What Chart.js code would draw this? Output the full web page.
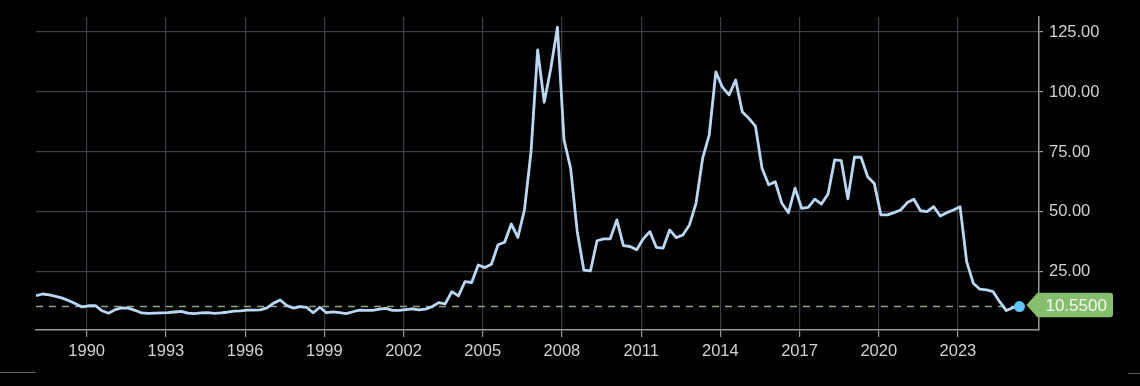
<!DOCTYPE html>
<html>
<head>
<meta charset="utf-8">
<script src="https://cdn.jsdelivr.net/npm/chart.js@4/dist/chart.umd.min.js"></script>
<style>
  html, body { margin: 0; padding: 0; background: #000; }
  #wrap { width: 1140px; height: 386px; }
</style>
</head>
<body>
<div id="wrap"><canvas id="priceChart" width="1140" height="386"></canvas></div>
<script>
// quarterly readings, first one early 1988
const startYear = 1988.08;
const stepYears = 0.25;
const values = [
  15.1, 15.8, 15.4, 14.8, 14.1, 13.0, 11.7, 10.4, 10.9, 11.0,
  8.8, 7.8, 9.3, 10.0, 9.9, 9.0, 7.9, 7.7, 7.8, 7.9,
  8.0, 8.3, 8.6, 7.8, 7.6, 7.9, 8.0, 7.7, 7.9, 8.2,
  8.7, 8.8, 9.1, 9.1, 9.2, 10.0, 12.0, 13.3, 11.0, 9.9,
  10.5, 10.2, 8.0, 10.3, 8.0, 8.4, 8.0, 7.6, 8.4, 9.1,
  9.0, 9.0, 9.5, 9.8, 9.0, 9.0, 9.3, 9.6, 9.2, 9.5,
  10.5, 12.2, 11.7, 16.8, 15.0, 21.0, 20.6, 27.9, 26.8, 28.2,
  36.3, 37.4, 45.0, 39.4, 50.8, 75.1, 117.5, 95.7, 109.9, 127.0,
  80.0, 68.2, 41.8, 25.8, 25.4, 38.0, 38.8, 38.8, 46.7, 36.0,
  35.6, 34.2, 38.8, 41.8, 35.2, 34.9, 42.5, 39.3, 40.4, 44.6,
  53.6, 72.4, 82.1, 108.4, 102.0, 98.8, 105.0, 91.8, 89.0, 85.8,
  68.2, 61.3, 62.6, 53.6, 49.7, 59.9, 51.5, 51.9, 55.3, 53.3,
  57.5, 71.7, 71.4, 55.5, 72.8, 72.8, 64.7, 61.9, 48.8, 48.8,
  49.7, 50.8, 53.9, 55.3, 50.5, 50.1, 52.2, 48.3, 49.7, 50.8,
  52.2, 29.3, 20.3, 17.8, 17.5, 16.8, 12.6, 8.9, 10.1, 10.55
];
const yearTicks = [1990, 1993, 1996, 1999, 2002, 2005, 2008, 2011, 2014, 2017, 2020, 2023];
const priceTicks = [25, 50, 75, 100, 125];

const points = values.map((v, i) => ({ x: startYear + i * stepYears, y: v }));
const lastIdx = values.length - 1;
const lastValue = values[lastIdx];

const FONT = 'Liberation Sans, Helvetica, Arial, sans-serif';

// dashed reference line at last value, label tag, and stray edge lines
const lastValueTag = {
  id: 'lastValueTag',
  beforeDatasetsDraw(chart) {
    const { ctx, chartArea, scales } = chart;
    const y = scales.y.getPixelForValue(lastValue);
    const xEnd = scales.x.getPixelForValue(points[lastIdx].x);
    ctx.save();
    ctx.strokeStyle = '#8fa57c';
    ctx.lineWidth = 1.5;
    ctx.setLineDash([7, 6]);
    ctx.beginPath();
    ctx.moveTo(chartArea.left, y);
    ctx.lineTo(xEnd, y);
    ctx.stroke();
    ctx.restore();
  },
  afterDraw(chart) {
    const { ctx, scales } = chart;
    const y = scales.y.getPixelForValue(lastValue) - 1.5;
    const xDot = scales.x.getPixelForValue(points[lastIdx].x);
    const tip = xDot + 7;
    const left = tip + 11;
    const right = 1113;
    const h = 24.5;
    const top = y - h / 2;
    const r = 3;
    ctx.save();
    ctx.fillStyle = '#86bf6b';
    ctx.beginPath();
    ctx.moveTo(tip, y);
    ctx.lineTo(left, top);
    ctx.lineTo(right - r, top);
    ctx.quadraticCurveTo(right, top, right, top + r);
    ctx.lineTo(right, top + h - r);
    ctx.quadraticCurveTo(right, top + h, right - r, top + h);
    ctx.lineTo(left, top + h);
    ctx.closePath();
    ctx.fill();
    ctx.fillStyle = '#f6f6f6';
    ctx.font = '17px ' + FONT;
    ctx.textBaseline = 'middle';
    ctx.textAlign = 'left';
    ctx.fillText(lastValue.toFixed(4), left + 8, y + 1);

    ctx.strokeStyle = '#5c5c5c';
    ctx.lineWidth = 1;
    ctx.beginPath();
    ctx.moveTo(0, 372.5);
    ctx.lineTo(36, 372.5);
    ctx.moveTo(1128, 373.5);
    ctx.lineTo(1140, 373.5);
    ctx.stroke();
    ctx.restore();
  }
};

const ctx = document.getElementById('priceChart').getContext('2d');
new Chart(ctx, {
  type: 'line',
  data: {
    datasets: [{
      data: points,
      borderColor: '#b8d8f6',
      borderWidth: 2.8,
      borderJoinStyle: 'round',
      tension: 0,
      pointRadius: c => (c.dataIndex === lastIdx ? 5.5 : 0),
      pointBackgroundColor: '#5cc6f7',
      pointBorderWidth: 0
    }]
  },
  options: {
    responsive: false,
    animation: false,
    layout: { padding: { left: 36, top: 17, right: 0, bottom: 0 } },
    plugins: { legend: { display: false }, tooltip: { enabled: false } },
    scales: {
      x: {
        type: 'linear',
        min: startYear,
        max: 2026.07,
        afterBuildTicks: s => { s.ticks = yearTicks.map(v => ({ value: v })); },
        afterFit: s => { s.height = 56; },
        grid: { color: '#3a3e47', lineWidth: 1.2, tickLength: 7, tickColor: '#9a9a9a' },
        border: { color: '#9a9a9a', width: 1.5 },
        ticks: {
          color: '#d2d2d2',
          font: { family: FONT, size: 16.5 },
          padding: 5,
          maxRotation: 0,
          callback: v => String(v)
        }
      },
      y: {
        position: 'right',
        min: 0.8,
        max: 131.25,
        afterBuildTicks: s => { s.ticks = priceTicks.map(v => ({ value: v })); },
        afterFit: s => { s.width = 101; },
        grid: { color: '#3a3e47', lineWidth: 1.2, tickLength: 4, tickColor: '#9a9a9a' },
        border: { color: '#9a9a9a', width: 1.5 },
        ticks: {
          color: '#d2d2d2',
          font: { family: FONT, size: 16.5 },
          padding: 6,
          callback: v => v.toFixed(2)
        }
      }
    }
  },
  plugins: [lastValueTag]
});
</script>
</body>
</html>
